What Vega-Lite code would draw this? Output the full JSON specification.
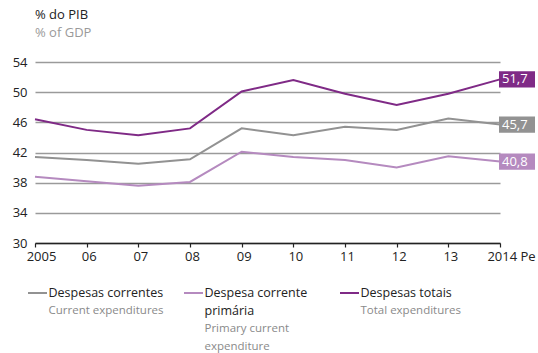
{
  "$schema": "https://vega.github.io/schema/vega-lite/v6.json",
  "background": "white",
  "padding": {"left": 12, "top": 9, "right": 0, "bottom": 0},
  "config": {
    "font": "Open Sans",
    "view": {"stroke": null},
    "locale": {"number": {"decimal": ",", "thousands": ".", "grouping": [3], "currency": ["", " €"]}},
    "concat": {"spacing": 24}
  },
  "datasets": {
    "series": [
      {"year": 2005, "serie": "Despesas correntes", "value": 41.4},
      {"year": 2006, "serie": "Despesas correntes", "value": 41.0},
      {"year": 2007, "serie": "Despesas correntes", "value": 40.5},
      {"year": 2008, "serie": "Despesas correntes", "value": 41.1},
      {"year": 2009, "serie": "Despesas correntes", "value": 45.2},
      {"year": 2010, "serie": "Despesas correntes", "value": 44.3},
      {"year": 2011, "serie": "Despesas correntes", "value": 45.4},
      {"year": 2012, "serie": "Despesas correntes", "value": 45.0},
      {"year": 2013, "serie": "Despesas correntes", "value": 46.5},
      {"year": 2014, "serie": "Despesas correntes", "value": 45.7},
      {"year": 2005, "serie": "Despesa corrente primária", "value": 38.8},
      {"year": 2006, "serie": "Despesa corrente primária", "value": 38.2},
      {"year": 2007, "serie": "Despesa corrente primária", "value": 37.6},
      {"year": 2008, "serie": "Despesa corrente primária", "value": 38.1},
      {"year": 2009, "serie": "Despesa corrente primária", "value": 42.1},
      {"year": 2010, "serie": "Despesa corrente primária", "value": 41.4},
      {"year": 2011, "serie": "Despesa corrente primária", "value": 41.0},
      {"year": 2012, "serie": "Despesa corrente primária", "value": 40.0},
      {"year": 2013, "serie": "Despesa corrente primária", "value": 41.5},
      {"year": 2014, "serie": "Despesa corrente primária", "value": 40.8},
      {"year": 2005, "serie": "Despesas totais", "value": 46.4},
      {"year": 2006, "serie": "Despesas totais", "value": 45.0},
      {"year": 2007, "serie": "Despesas totais", "value": 44.3},
      {"year": 2008, "serie": "Despesas totais", "value": 45.2},
      {"year": 2009, "serie": "Despesas totais", "value": 50.1},
      {"year": 2010, "serie": "Despesas totais", "value": 51.6},
      {"year": 2011, "serie": "Despesas totais", "value": 49.8},
      {"year": 2012, "serie": "Despesas totais", "value": 48.3},
      {"year": 2013, "serie": "Despesas totais", "value": 49.8},
      {"year": 2014, "serie": "Despesas totais", "value": 51.7}
    ],
    "legend": [
      {"serie": "Despesas correntes", "kind": "pt", "line": 1, "text": "Despesas correntes"},
      {"serie": "Despesas correntes", "kind": "en", "line": 2, "text": "Current expenditures"},
      {"serie": "Despesa corrente primária", "kind": "pt", "line": 1, "text": "Despesa corrente"},
      {"serie": "Despesa corrente primária", "kind": "pt", "line": 2, "text": " primária"},
      {"serie": "Despesa corrente primária", "kind": "en", "line": 3, "text": "Primary current"},
      {"serie": "Despesa corrente primária", "kind": "en", "line": 4, "text": "expenditure"},
      {"serie": "Despesas totais", "kind": "pt", "line": 1, "text": "Despesas totais"},
      {"serie": "Despesas totais", "kind": "en", "line": 2, "text": "Total expenditures"}
    ]
  },
  "vconcat": [
    {
      "width": 465,
      "height": 181,
      "title": {
        "text": "% do PIB",
        "subtitle": "% of GDP",
        "anchor": "start",
        "frame": "group",
        "fontSize": 13,
        "fontWeight": "normal",
        "color": "#222222",
        "subtitleFontSize": 13,
        "subtitleColor": "#9a9a9a",
        "subtitlePadding": 5,
        "offset": 16
      },
      "data": {"name": "series"},
      "encoding": {
        "x": {
          "field": "year",
          "type": "quantitative",
          "scale": {"domain": [2005, 2014], "nice": false, "zero": false},
          "axis": {
            "values": [2005, 2006, 2007, 2008, 2009, 2010, 2011, 2012, 2013, 2014],
            "labelExpr": "datum.value == 2005 ? '2005' : datum.value == 2014 ? '2014 Pe' : slice(toString(datum.value), 2)",
            "labelFlush": false,
            "labelOverlap": false,
            "labelBound": false,
            "labelOffset": {"expr": "datum.value == 2014 ? 11 : datum.value == 2005 ? 6 : 2"},
            "grid": false,
            "title": null,
            "domainColor": "#222222",
            "domainWidth": 1.5,
            "tickColor": "#222222",
            "tickWidth": 1.2,
            "tickSize": 4,
            "labelFontSize": 13,
            "labelColor": "#222222",
            "labelPadding": 3
          }
        },
        "y": {
          "field": "value",
          "type": "quantitative",
          "scale": {"domain": [30, 54], "nice": false, "zero": false},
          "axis": {
            "values": [30, 34, 38, 42, 46, 50, 54],
            "domain": false,
            "ticks": false,
            "gridColor": "#9a9a9a",
            "gridWidth": 1.4,
            "labelFontSize": 13,
            "labelColor": "#222222",
            "labelPadding": 8,
            "title": null
          }
        },
        "color": {
          "field": "serie",
          "type": "nominal",
          "scale": {
            "domain": ["Despesas correntes", "Despesa corrente primária", "Despesas totais"],
            "range": ["#929292", "#b58abf", "#7f2a86"]
          },
          "legend": null
        }
      },
      "layer": [
        {"mark": {"type": "line", "strokeWidth": 2}},
        {
          "transform": [{"filter": "datum.year == 2014"}],
          "mark": {"type": "point", "shape": "M0,-0.45H2V0.45H0Z", "filled": true, "opacity": 1, "size": 1296, "xOffset": -1}
        },
        {
          "transform": [{"filter": "datum.year == 2014"}],
          "mark": {"type": "text", "align": "left", "baseline": "middle", "dx": 2, "fontSize": 13, "color": "white"},
          "encoding": {
            "color": {"value": "white"},
            "text": {"field": "value", "type": "quantitative", "format": ".1f"}
          }
        }
      ]
    },
    {
      "width": 317,
      "height": 54,
      "data": {"name": "legend"},
      "encoding": {
        "x": {
          "field": "serie",
          "type": "nominal",
          "sort": ["Despesas correntes", "Despesa corrente primária", "Despesas totais"],
          "scale": {"type": "point", "padding": 0.016},
          "axis": null
        },
        "y": {
          "field": "line",
          "type": "ordinal",
          "scale": {"type": "point", "padding": 0},
          "axis": null
        }
      },
      "layer": [
        {
          "transform": [{"filter": "datum.line == 1"}],
          "mark": {"type": "point", "shape": "M-1,0H1", "filled": false, "strokeWidth": 2, "size": 361, "opacity": 1},
          "encoding": {
            "color": {
              "field": "serie",
              "type": "nominal",
              "scale": {
                "domain": ["Despesas correntes", "Despesa corrente primária", "Despesas totais"],
                "range": ["#929292", "#b58abf", "#7f2a86"]
              },
              "legend": null
            }
          }
        },
        {
          "transform": [{"filter": "datum.kind == 'pt'"}],
          "mark": {"type": "text", "align": "left", "baseline": "middle", "dx": 11, "fontSize": 12.5, "color": "#222222"},
          "encoding": {"text": {"field": "text", "type": "nominal"}}
        },
        {
          "transform": [{"filter": "datum.kind == 'en'"}],
          "mark": {"type": "text", "align": "left", "baseline": "middle", "dx": 11, "fontSize": 11.5, "color": "#8a8a8a"},
          "encoding": {"text": {"field": "text", "type": "nominal"}}
        }
      ]
    }
  ]
}
